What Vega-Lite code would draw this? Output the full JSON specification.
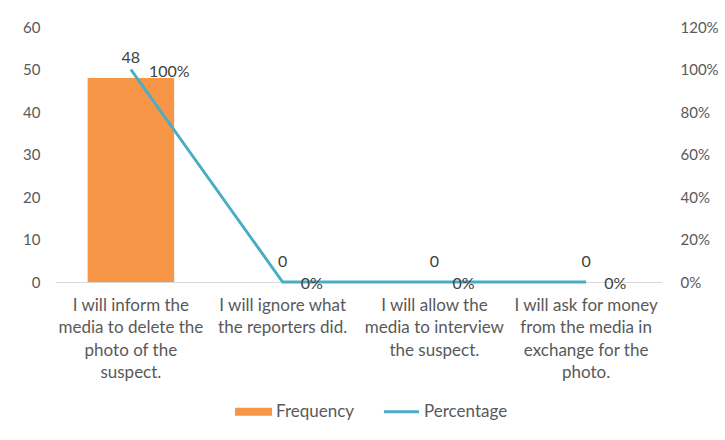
{
  "$schema": "https://vega.github.io/schema/vega-lite/v6.json",
  "width": 607,
  "height": 255,
  "autosize": {"type": "none"},
  "padding": {"left": 55, "top": 27, "right": 63, "bottom": 158},
  "background": "white",
  "config": {
    "font": "Lato",
    "view": {"stroke": null},
    "axis": {"labelFont": "Lato", "labelColor": "#595959", "labelFontSize": 15, "grid": false, "ticks": false, "domain": false, "title": null}
  },
  "data": {
    "values": [
      {"option": "I will inform the\nmedia to delete the\nphoto of the\nsuspect.", "Frequency": 48, "Percentage": 1.0},
      {"option": "I will ignore what\nthe reporters did.", "Frequency": 0, "Percentage": 0},
      {"option": "I will allow the\nmedia to interview\nthe suspect.", "Frequency": 0, "Percentage": 0},
      {"option": "I will ask for money\nfrom the media in\nexchange for the\nphoto.", "Frequency": 0, "Percentage": 0}
    ]
  },
  "encoding": {
    "x": {
      "field": "option", "type": "nominal", "sort": null,
      "scale": {"paddingInner": 0.43, "paddingOuter": 0.215},
      "axis": {
        "labelAngle": 0, "labelExpr": "split(datum.value, '\\n')", "labelLineHeight": 22.5,
        "labelPadding": 15, "labelFontSize": 17, "labelColor": "#595959",
        "domain": true, "domainColor": "#D9D9D9", "domainWidth": 1, "labelLimit": 200
      }
    }
  },
  "layer": [
    {
      "layer": [
        {
          "mark": {"type": "bar", "color": "#F79646"},
          "encoding": {
            "y": {"field": "Frequency", "type": "quantitative", "scale": {"domain": [0, 60]},
                  "axis": {"values": [0, 10, 20, 30, 40, 50, 60], "labelPadding": 15, "orient": "left"}},
            "color": {"datum": "Frequency", "type": "nominal",
                      "scale": {"domain": ["Frequency", "Percentage"], "range": ["#F79646", "#4BACC6"]},
                      "legend": {
                        "orient": "none", "legendX": 180, "legendY": 366, "direction": "horizontal",
                        "title": null, "labelFontSize": 17, "labelColor": "#595959", "labelFont": "Lato",
                        "symbolSize": 1369, "columnPadding": 28, "labelOffset": 4,
                        "encode": {
                          "symbols": {
                            "update": {
                              "shape": {"signal": "datum.value === 'Percentage' ? 'M-0.95,-0.08H0.95V0.08H-0.95Z' : 'M-1,-0.22H1V0.22H-1Z'"},
                              "fill": {"signal": "datum.value === 'Percentage' ? '#4BACC6' : '#F79646'"},
                              "stroke": {"value": "transparent"},
                              "strokeWidth": {"value": 0},
                              "opacity": {"value": 1}
                            }
                          }
                        }
                      }}
          }
        },
        {
          "mark": {"type": "text", "baseline": "bottom", "dy": -12, "fontSize": 16, "color": "#404040", "font": "Lato"},
          "encoding": {
            "y": {"field": "Frequency", "type": "quantitative"},
            "text": {"field": "Frequency", "type": "quantitative"}
          }
        }
      ]
    },
    {
      "layer": [
        {
          "mark": {"type": "line", "color": "#4BACC6", "strokeWidth": 3},
          "encoding": {
            "y": {"field": "Percentage", "type": "quantitative", "scale": {"domain": [0, 1.2]},
                  "axis": {"orient": "right", "format": ".0%", "values": [0, 0.2, 0.4, 0.6, 0.8, 1.0, 1.2], "labelPadding": 18}},
            "color": {"datum": "Percentage", "type": "nominal"}
          }
        },
        {
          "mark": {"type": "text", "align": "left", "baseline": "middle", "dx": 18, "dy": 2, "fontSize": 16, "color": "#404040", "font": "Lato"},
          "encoding": {
            "y": {"field": "Percentage", "type": "quantitative"},
            "text": {"field": "Percentage", "type": "quantitative", "format": ".0%"}
          }
        }
      ]
    }
  ],
  "resolve": {"scale": {"y": "independent"}}
}
